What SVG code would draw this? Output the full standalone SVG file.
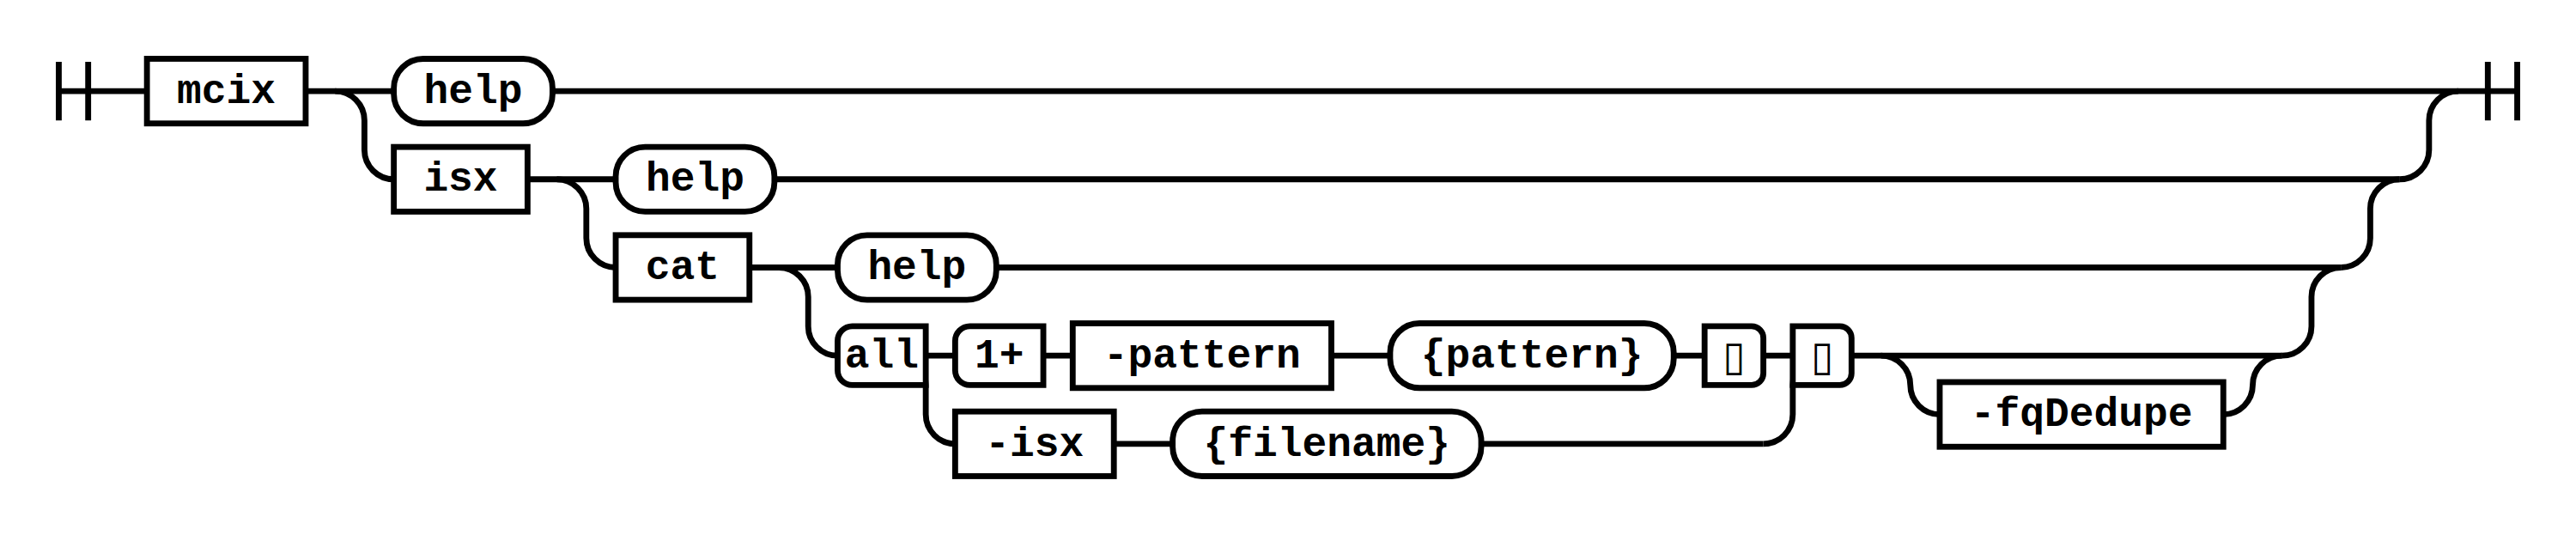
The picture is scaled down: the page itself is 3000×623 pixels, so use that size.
<svg xmlns="http://www.w3.org/2000/svg" width="3000" height="623" viewBox="0 0 3000 623">
<style>
.ln{fill:none;stroke:#000;stroke-width:2}
.bx{fill:#fff;stroke:#000;stroke-width:2}
.t{font-family:'Liberation Mono','Courier New',monospace;font-weight:bold;font-size:14px;text-anchor:middle;fill:#000}
.g{font-family:'DejaVu Sans',sans-serif;font-weight:normal;font-size:14px;text-anchor:middle;fill:#000}
</style>
<rect width="3000" height="623" fill="#fff"/>
<g transform="scale(3.4227)">
<g id="connectors">
<path class="ln" d="M20,21 v20 M30,21 v20 M20,31 H50"/>
<path class="ln" d="M104,31 H134"/>
<path class="ln" d="M188,31 H856.5"/>
<path class="ln" d="M846.5,21 v20 M856.5,21 v20"/>
<path class="ln" d="M114,31 a10,10 0 0 1 10,10 V51 a10,10 0 0 0 10,10"/>
<path class="ln" d="M816.5,61 a10,10 0 0 0 10,-10 V41 a10,10 0 0 1 10,-10"/>
<path class="ln" d="M179.5,61 H209.5"/>
<path class="ln" d="M263.5,61 H816.5"/>
<path class="ln" d="M189.5,61 a10,10 0 0 1 10,10 V81 a10,10 0 0 0 10,10"/>
<path class="ln" d="M796.5,91 a10,10 0 0 0 10,-10 V71 a10,10 0 0 1 10,-10"/>
<path class="ln" d="M255,91 H285"/>
<path class="ln" d="M339,91 H796.5"/>
<path class="ln" d="M265,91 a10,10 0 0 1 10,10 V111 a10,10 0 0 0 10,10"/>
<path class="ln" d="M776.5,121 a10,10 0 0 0 10,-10 V101 a10,10 0 0 1 10,-10"/>
<path class="ln" d="M305,121 H325"/>
<path class="ln" d="M355,121 H365"/>
<path class="ln" d="M453,121 H473"/>
<path class="ln" d="M569.5,121 H580"/>
<path class="ln" d="M600,121 H620"/>
<path class="ln" d="M305,121 a10,10 0 0 1 10,10 V141 a10,10 0 0 0 10,10"/>
<path class="ln" d="M379,151 H399"/>
<path class="ln" d="M504,151 H600"/>
<path class="ln" d="M600,151 a10,10 0 0 0 10,-10 V131 a10,10 0 0 1 10,-10"/>
<path class="ln" d="M630,121 H776.5"/>
<path class="ln" d="M640,121 a10,10 0 0 1 10,10 a10,10 0 0 0 10,10"/>
<path class="ln" d="M756.5,141 a10,10 0 0 0 10,-10 a10,10 0 0 1 10,-10"/>
</g>
<g id="n-mcix"><rect class="bx" x="50" y="20" width="54" height="22"/><text class="t" x="77" y="35">mcix</text></g>
<g id="n-help1"><rect class="bx" x="134" y="20" width="54" height="22" rx="10" ry="10"/><text class="t" x="161" y="35">help</text></g>
<g id="n-isx"><rect class="bx" x="134" y="50" width="45.5" height="22"/><text class="t" x="156.75" y="65">isx</text></g>
<g id="n-help2"><rect class="bx" x="209.5" y="50" width="54" height="22" rx="10" ry="10"/><text class="t" x="236.5" y="65">help</text></g>
<g id="n-cat"><rect class="bx" x="209.5" y="80" width="45.5" height="22"/><text class="t" x="232.25" y="95">cat</text></g>
<g id="n-help3"><rect class="bx" x="285" y="80" width="54" height="22" rx="10" ry="10"/><text class="t" x="312" y="95">help</text></g>
<g id="n-all"><path class="bx" d="M315,111 H290 A5,5 0 0 0 285,116 V126 A5,5 0 0 0 290,131 H315 Z"/><text class="t" x="300" y="125">all</text></g>
<g id="n-oneplus"><path class="bx" d="M355,111 H330 A5,5 0 0 0 325,116 V126 A5,5 0 0 0 330,131 H355 Z"/><text class="t" x="340" y="125">1+</text></g>
<g id="n-pattern-opt"><rect class="bx" x="365" y="110" width="88" height="22"/><text class="t" x="409" y="125">-pattern</text></g>
<g id="n-pattern-val"><rect class="bx" x="473" y="110" width="96.5" height="22" rx="10" ry="10"/><text class="t" x="521.25" y="125">{pattern}</text></g>
<g id="n-box1"><path class="bx" d="M580,111 H596 A4,4 0 0 1 600,115 V127 A4,4 0 0 1 596,131 H580 Z"/><text class="g" x="590" y="126">▯</text></g>
<g id="n-box2"><path class="bx" d="M610,111 H626 A4,4 0 0 1 630,115 V127 A4,4 0 0 1 626,131 H610 Z"/><text class="g" x="620" y="126">▯</text></g>
<g id="n-isx-opt"><rect class="bx" x="325" y="140" width="54" height="22"/><text class="t" x="352" y="155">-isx</text></g>
<g id="n-filename"><rect class="bx" x="399" y="140" width="105" height="22" rx="10" ry="10"/><text class="t" x="451.5" y="155">{filename}</text></g>
<g id="n-fqdedupe"><rect class="bx" x="660" y="130" width="96.5" height="22"/><text class="t" x="708.25" y="145">-fqDedupe</text></g>
</g>
</svg>
